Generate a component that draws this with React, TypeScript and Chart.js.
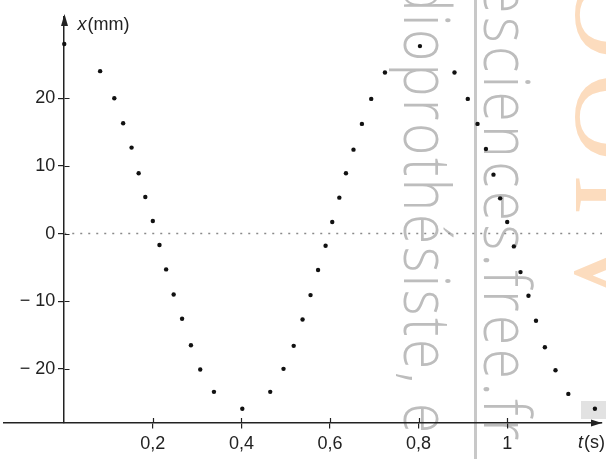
import React, { useEffect, useRef } from "react";
import { Chart, registerables } from "chart.js";

Chart.register(...registerables);

// ---- data ----
const times = [
  0.0, 0.081, 0.113, 0.133, 0.152, 0.168, 0.183, 0.2, 0.215, 0.23, 0.247, 0.266, 0.286, 0.307, 0.338,
  0.402, 0.465, 0.495, 0.518, 0.538, 0.556, 0.573, 0.59, 0.605, 0.621, 0.636, 0.653, 0.672, 0.693, 0.724,
  0.803, 0.881, 0.911, 0.933, 0.952, 0.969, 0.984, 1.0, 1.015, 1.03, 1.048, 1.065, 1.085, 1.109, 1.138,
  1.198,
];
const positions = [
  28.0, 24.0, 20.0, 16.3, 12.7, 8.9, 5.4, 1.85, -1.7, -5.3, -9.0, -12.6, -16.5, -20.1, -23.4,
  -25.9, -23.4, -20.0, -16.6, -12.7, -9.1, -5.4, -1.8, 1.7, 5.3, 8.9, 12.4, 16.2, 19.9, 23.8,
  27.7, 23.8, 19.9, 16.2, 12.5, 8.7, 5.2, 1.7, -1.9, -5.7, -9.2, -12.9, -16.8, -20.2, -23.7,
  -25.9,
];
const xTickValues = [0.2, 0.4, 0.6, 0.8, 1];
const xTickLabels = ["0,2", "0,4", "0,6", "0,8", "1"];
const yTickValues = [20, 10, 0, -10, -20];
const yTickLabels = ["20", "10", "0", "\u2212 10", "\u2212 20"];
const xRange = [-0.136, 1.214];
const yRange = [-28, 32];
const xTitleItalic = "t";
const xTitleRest = "(s)";
const yTitleItalic = "x";
const yTitleRest = "(mm)";
const watermarkGray1 = "dioprothésiste, e";
const watermarkGray2 = "esciences.free.fr";
const watermarkOrange = "OOIV";

const FONT = '"Liberation Sans", Arial, sans-serif';

function labelFor(values: number[], labels: string[], v: number) {
  const i = values.findIndex((t) => Math.abs(t - v) < 1e-6);
  return i >= 0 ? labels[i] : "";
}

const watermarkPlugin = {
  id: "watermark",
  beforeDraw(chart: any) {
    const ctx = chart.ctx as CanvasRenderingContext2D;
    ctx.save();
    ctx.fillStyle = "#c8c8c8";
    ctx.fillRect(474, 0, 3, 459);
    ctx.fillStyle = "#e2e2e2";
    ctx.fillRect(581, 401, 25, 18);
    ctx.restore();

    // rotated text whose glyph k0 starts at p0 and glyph k1 starts at p1 (along the column)
    const drawColumn = (
      text: string,
      x: number,
      font: string,
      color: string,
      sy: number,
      k0: number,
      p0: number,
      k1: number,
      p1: number
    ) => {
      ctx.save();
      ctx.font = font;
      (ctx as any).letterSpacing = "0px";
      const a = ctx.measureText(text.slice(0, k0)).width;
      const b = ctx.measureText(text.slice(0, k1)).width;
      const ls = (p1 - p0 - (b - a)) / (k1 - k0);
      const start = p0 - a - k0 * ls;
      (ctx as any).letterSpacing = `${ls}px`;
      ctx.fillStyle = color;
      ctx.textBaseline = "alphabetic";
      ctx.translate(x, start);
      ctx.rotate(Math.PI / 2);
      ctx.scale(1, sy);
      ctx.fillText(text, 0, 0);
      ctx.restore();
    };
    drawColumn(watermarkGray1, 404, '300 55px "Open Sans", sans-serif', "#bdbdbd", 1.18, 2, 29, 16, 403);
    drawColumn(watermarkGray2, 484, '300 55px "Open Sans", sans-serif', "#bdbdbd", 1.18, 1, 17, 15, 399);
    drawColumn(watermarkOrange, 576, '400 125px "Liberation Serif", serif', "#fcdcbe", 1, 0, -30, 2, 174);
  },
};

const axesDecorPlugin = {
  id: "axesDecor",
  afterDraw(chart: any) {
    const ctx = chart.ctx as CanvasRenderingContext2D;
    const xs = chart.scales.x;
    const ys = chart.scales.y;
    const ax = Math.round(xs.getPixelForValue(0)) + 0.5;
    const ay = Math.round(ys.getPixelForValue(yRange[0]));
    const area = chart.chartArea;
    ctx.save();
    ctx.strokeStyle = "#222";
    ctx.fillStyle = "#222";
    ctx.lineWidth = 1.2;
    ctx.beginPath();
    for (const v of yTickValues) {
      const py = Math.round(ys.getPixelForValue(v)) + 0.5;
      ctx.moveTo(ax, py);
      ctx.lineTo(ax + 5, py);
    }
    for (const v of xTickValues) {
      const px = Math.round(xs.getPixelForValue(v)) + 0.5;
      ctx.moveTo(px, ay);
      ctx.lineTo(px, ay - 5);
    }
    ctx.stroke();
    ctx.beginPath();
    ctx.moveTo(ax, area.top - 3);
    ctx.lineTo(ax - 3.5, area.top + 9);
    ctx.lineTo(ax + 3.5, area.top + 9);
    ctx.closePath();
    ctx.fill();
    ctx.beginPath();
    ctx.moveTo(area.right, ay);
    ctx.lineTo(area.right - 11, ay - 3.5);
    ctx.lineTo(area.right - 11, ay + 3.5);
    ctx.closePath();
    ctx.fill();
    ctx.textBaseline = "alphabetic";
    ctx.textAlign = "left";
    ctx.font = `italic 18px ${FONT}`;
    ctx.fillText(yTitleItalic, ax + 13, 30);
    let w = ctx.measureText(yTitleItalic).width;
    ctx.font = `18px ${FONT}`;
    ctx.fillText(yTitleRest, ax + 13 + w + 1, 30);
    ctx.font = `italic 18px ${FONT}`;
    ctx.fillText(xTitleItalic, 578, 448);
    w = ctx.measureText(xTitleItalic).width;
    ctx.font = `18px ${FONT}`;
    ctx.fillText(xTitleRest, 578 + w + 1, 448);
    ctx.restore();
  },
};

export default function App() {
  const canvasRef = useRef<HTMLCanvasElement | null>(null);

  useEffect(() => {
    const canvas = canvasRef.current;
    if (!canvas) return;
    const points = times.map((t, i) => ({ x: t, y: positions[i] }));
    const chart = new Chart(canvas, {
      type: "scatter",
      data: {
        datasets: [
          {
            data: [
              { x: 0, y: 0 },
              { x: xRange[1], y: 0 },
            ],
            showLine: true,
            borderColor: "#8a8a8a",
            borderWidth: 1.5,
            borderDash: [2, 6],
            pointRadius: 0,
            clip: false,
          } as any,
          {
            data: points,
            pointRadius: 2.2,
            pointBackgroundColor: "#111",
            pointBorderWidth: 0,
            showLine: false,
            clip: false,
          } as any,
        ],
      },
      options: {
        animation: false,
        responsive: false,
        devicePixelRatio: 1,
        layout: { padding: { left: 0, right: 0, top: 17, bottom: 36 } },
        plugins: { legend: { display: false }, tooltip: { enabled: false } },
        scales: {
          x: {
            type: "linear",
            min: xRange[0],
            max: xRange[1],
            position: { y: yRange[0] } as any,
            afterBuildTicks: (s: any) => {
              s.ticks = xTickValues.map((v) => ({ value: v }));
            },
            ticks: {
              callback: (v: any) => labelFor(xTickValues, xTickLabels, Number(v)),
              font: { family: FONT, size: 18 },
              color: "#222",
              padding: 5,
              maxRotation: 0,
              autoSkip: false,
            },
            grid: { drawOnChartArea: false, drawTicks: true, tickLength: 5, color: "#222", lineWidth: 1.2 },
            border: { display: true, color: "#222", width: 1.5 },
          },
          y: {
            type: "linear",
            min: yRange[0],
            max: yRange[1],
            position: { x: 0 } as any,
            afterBuildTicks: (s: any) => {
              s.ticks = yTickValues.map((v) => ({ value: v }));
            },
            ticks: {
              // en-space keeps the right-aligned label clear of the axis line
              callback: (v: any) => labelFor(yTickValues, yTickLabels, Number(v)) + "\u2002",
              font: { family: FONT, size: 18 },
              color: "#222",
              padding: 4,
              autoSkip: false,
            },
            grid: { drawOnChartArea: false, drawTicks: true, tickLength: 5, color: "#222", lineWidth: 1.2 },
            border: { display: true, color: "#222", width: 1.5 },
          },
        },
      },
      plugins: [watermarkPlugin, axesDecorPlugin],
    });
    return () => chart.destroy();
  }, []);

  return (
    <div style={{ position: "absolute", left: 0, top: 0, width: 606, height: 459, background: "#fff" }}>
      <canvas ref={canvasRef} width={606} height={459} style={{ display: "block", width: 606, height: 459 }} />
    </div>
  );
}
